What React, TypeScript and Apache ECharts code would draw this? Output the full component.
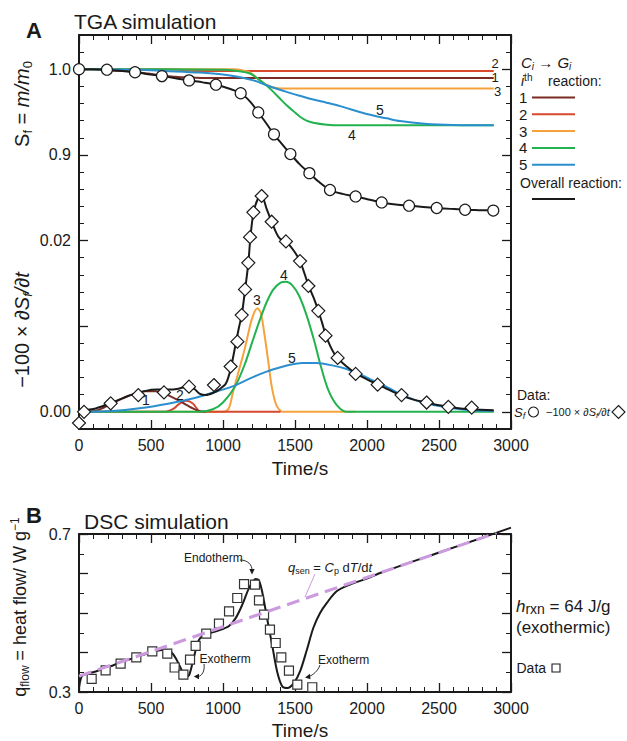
import React, { useEffect, useRef } from "react";
import * as echarts from "echarts";

const FONT = "'Liberation Sans', Arial, Helvetica, sans-serif";
const INK = "#1a1a1a";

// ---------------- axes / ticks ----------------
const timeTicks = [0, 500, 1000, 1500, 2000, 2500, 3000];
// Panel A uses one combined scale u: Sf drawn as u = (Sf - 0.6) / 10, derivative drawn as is.
const aMin = -0.002;
const aMax = 0.044;
const aLabelValues = [0, 0.02, 0.03, 0.04];
const aLabelTexts = ["0.00", "0.02", "0.9", "1.0"];
const aMajorTicks = [0, 0.01, 0.02, 0.03, 0.04];
const aMinorTicks: number[] = [];
for (let k = -1; k <= 21; k++) if (k % 5 !== 0) aMinorTicks.push(Number((k * 0.002).toFixed(4)));

const bMin = 0.3;
const bMax = 0.7;
const bLabelValues = [0.3, 0.7];
const bLabelTexts = ["0.3", "0.7"];
const bMajorTicks = [0.3, 0.4, 0.5, 0.6, 0.7];
const bMinorTicks = [0.35, 0.45, 0.55, 0.65];

// ---------------- Panel A: Sf of each reaction ----------------
const reactionNames = ["1", "2", "3", "4", "5"];
const reactionColors = ["#7b2c25", "#d8482f", "#f6a23c", "#22b24f", "#2b8fcf"];

const sf1 = [[0, 1.0], [100, 0.9999], [192, 0.999], [300, 0.998], [389, 0.9968], [480, 0.995], [576, 0.993], [670, 0.9912], [764, 0.9903], [850, 0.9899], [2880, 0.9899]];
const sf2 = [[0, 1.0], [620, 1.0], [700, 0.9993], [745, 0.9987], [800, 0.9981], [850, 0.998], [2880, 0.998]];
const sf3 = [[0, 1.0], [1080, 1.0], [1140, 0.9985], [1190, 0.996], [1238, 0.9895], [1280, 0.984], [1320, 0.9805], [1360, 0.9783], [1410, 0.9776], [2880, 0.9776]];
const sf4 = [[0, 1.0], [1000, 0.9995], [1100, 0.998], [1188, 0.995], [1257, 0.987], [1303, 0.981], [1350, 0.9736], [1400, 0.965], [1442, 0.958], [1490, 0.951], [1535, 0.9446], [1580, 0.94], [1627, 0.9376], [1720, 0.9353], [1813, 0.9345], [2880, 0.9345]];
const sf5 = [[0, 1.0], [400, 0.9995], [600, 0.998], [840, 0.9961], [1072, 0.9922], [1211, 0.987], [1303, 0.9814], [1442, 0.9736], [1535, 0.969], [1627, 0.9647], [1720, 0.961], [1813, 0.957], [1998, 0.9477], [2137, 0.9427], [2229, 0.9395], [2400, 0.9365], [2600, 0.935], [2880, 0.9345]];

const sfOverall = [[0, 1.0], [100, 1.0], [194, 0.9995], [300, 0.998], [389, 0.9965], [480, 0.9943], [576, 0.992], [670, 0.9896], [764, 0.987], [860, 0.9847], [951, 0.982], [1040, 0.9775], [1123, 0.972], [1190, 0.962], [1245, 0.9496], [1300, 0.937], [1354, 0.924], [1410, 0.9125], [1468, 0.901], [1530, 0.8895], [1600, 0.8787], [1670, 0.868], [1743, 0.859], [1830, 0.8545], [1921, 0.8515], [2010, 0.848], [2102, 0.8445], [2200, 0.8422], [2292, 0.8407], [2390, 0.8393], [2484, 0.838], [2580, 0.837], [2681, 0.836], [2780, 0.8355], [2877, 0.835]];
const sfData = [[0, 1.0], [194, 0.9995], [389, 0.9965], [576, 0.992], [764, 0.987], [951, 0.982], [1123, 0.972], [1245, 0.9496], [1354, 0.924], [1468, 0.901], [1600, 0.8787], [1743, 0.859], [1921, 0.8515], [2102, 0.8445], [2292, 0.8407], [2484, 0.838], [2681, 0.836], [2877, 0.835]];

// ---------------- Panel A: -100 x dSf/dt ----------------
const d1 = [[0, 0], [116, 0.00012], [231, 0.001], [347, 0.00188], [463, 0.0024], [532, 0.0024], [602, 0.00208], [694, 0.0013], [787, 0.00043], [833, 0.0001], [880, 0]];
const d2 = [[0, 0], [600, 0], [623, 0.0001], [660, 0.0004], [694, 0.0009], [741, 0.0013], [770, 0.0012], [795, 0.0009], [822, 0.0003], [845, 0], [1400, 0]];
const d3 = [[0, 0], [1000, 0], [1040, 0.0004], [1072, 0.0025], [1110, 0.0048], [1153, 0.0075], [1200, 0.0108], [1238, 0.0121], [1262, 0.0116], [1290, 0.0088], [1315, 0.0058], [1340, 0.0028], [1370, 0.0008], [1400, 0.0001], [1420, 0], [1920, 0]];
const d4 = [[0, 0], [840, 0], [930, 0.0003], [1000, 0.0011], [1085, 0.003], [1150, 0.0055], [1200, 0.008], [1257, 0.0108], [1303, 0.0128], [1350, 0.0143], [1400, 0.0151], [1437, 0.0152], [1480, 0.0148], [1530, 0.0135], [1580, 0.0113], [1630, 0.0085], [1680, 0.0053], [1730, 0.0026], [1790, 0.0008], [1859, 0], [2880, 0]];
const d5 = [[0, 0], [231, 0.0001], [463, 0.0005], [694, 0.0012], [840, 0.0018], [960, 0.0024], [1085, 0.0031], [1200, 0.004], [1303, 0.0047], [1400, 0.0052], [1465, 0.0055], [1550, 0.0057], [1650, 0.0057], [1766, 0.0054], [1859, 0.005], [1917, 0.0046], [2000, 0.004], [2074, 0.0034], [2160, 0.0027], [2240, 0.002], [2330, 0.0014], [2414, 0.001], [2490, 0.0007], [2565, 0.0005], [2650, 0.0003], [2727, 0.0002], [2880, 0.0001]];

const dOverall = [[0, 0], [50, 0.0002], [116, 0.0004], [231, 0.0011], [347, 0.0019], [463, 0.00245], [540, 0.0026], [620, 0.0026], [690, 0.0027], [764, 0.003], [800, 0.0027], [840, 0.0021], [880, 0.00196], [930, 0.0022], [972, 0.0026], [1020, 0.0033], [1053, 0.005], [1083, 0.0075], [1110, 0.0098], [1130, 0.0113], [1153, 0.0142], [1176, 0.0174], [1190, 0.0203], [1211, 0.0232], [1240, 0.0248], [1268, 0.0252], [1303, 0.0237], [1338, 0.0222], [1370, 0.0209], [1396, 0.0202], [1437, 0.0199], [1488, 0.0189], [1535, 0.0176], [1593, 0.0148], [1630, 0.0133], [1662, 0.0118], [1690, 0.0103], [1715, 0.0089], [1750, 0.0075], [1789, 0.0064], [1859, 0.0053], [1921, 0.0045], [2000, 0.0038], [2074, 0.0032], [2160, 0.0025], [2240, 0.0019], [2330, 0.0014], [2414, 0.0011], [2490, 0.0008], [2565, 0.0006], [2650, 0.0004], [2727, 0.0003], [2880, 0.0002]];
const dData = [[0, -0.0013], [35, 0], [220, 0.001], [412, 0.00196], [590, 0.00227], [764, 0.00294], [937, 0.00314], [1053, 0.0053], [1100, 0.0082], [1130, 0.0113], [1153, 0.0143], [1176, 0.0174], [1188, 0.0204], [1211, 0.0233], [1268, 0.0252], [1338, 0.0222], [1437, 0.0199], [1535, 0.0176], [1593, 0.0147], [1662, 0.0118], [1712, 0.0089], [1796, 0.0063], [1921, 0.00443], [2074, 0.00318], [2240, 0.00196], [2414, 0.00109], [2565, 0.00059], [2727, 0.0005]];

// ---------------- Panel B: DSC ----------------
const qSen = [[0, 0.34], [2900, 0.703]];
const qFlow = [[0, 0.312], [10, 0.33], [25, 0.342], [116, 0.352], [231, 0.3666], [347, 0.382], [463, 0.396], [550, 0.405], [600, 0.407], [640, 0.401], [671, 0.386], [706, 0.361], [741, 0.3395], [764, 0.342], [799, 0.39], [833, 0.432], [880, 0.446], [972, 0.456], [1042, 0.467], [1088, 0.487], [1134, 0.521], [1181, 0.563], [1227, 0.586], [1250, 0.582], [1273, 0.552], [1308, 0.483], [1343, 0.4155], [1377, 0.35], [1412, 0.314], [1447, 0.31], [1493, 0.323], [1535, 0.352], [1581, 0.405], [1627, 0.462], [1674, 0.5], [1720, 0.525], [1789, 0.555], [1882, 0.572], [1998, 0.587], [2100, 0.6025], [2500, 0.653], [2800, 0.6905], [3000, 0.716]];
const qData = [[88, 0.333], [185, 0.355], [289, 0.3716], [398, 0.3877], [509, 0.403], [613, 0.397], [664, 0.362], [725, 0.344], [771, 0.382], [810, 0.417], [884, 0.4476], [972, 0.473], [1042, 0.504], [1099, 0.538], [1146, 0.573], [1222, 0.5716], [1250, 0.532], [1285, 0.4957], [1326, 0.4577], [1366, 0.424], [1405, 0.3877], [1458, 0.354], [1516, 0.3185], [1620, 0.312]];

const toU = (sf: number) => (sf - 0.6) / 10;

function xAxisDef(gridIndex: number, position: "top" | "bottom") {
  return {
    type: "value",
    gridIndex,
    position,
    min: timeTicks[0],
    max: timeTicks[timeTicks.length - 1],
    interval: timeTicks[1] - timeTicks[0],
    axisLine: { show: true, onZero: false, lineStyle: { color: INK, width: 2 } },
    axisTick: { show: true, inside: true, length: 9, lineStyle: { color: INK, width: 1.3 } },
    minorTick: { show: true, splitNumber: 5, length: 5, lineStyle: { color: INK, width: 1 } },
    axisLabel: {
      show: position === "bottom",
      color: INK,
      fontSize: 16,
      fontFamily: FONT,
      margin: 8,
      formatter: (v: number) => String(Math.round(v)),
    },
    splitLine: { show: false },
    minorSplitLine: { show: false },
  };
}

function yAxisDef(
  gridIndex: number,
  position: "left" | "right",
  min: number,
  max: number,
  ticks: number[],
  major: boolean,
  labelValues?: number[],
  labelTexts?: string[]
) {
  return {
    type: "value",
    gridIndex,
    position,
    min,
    max,
    axisLine: { show: major, onZero: false, lineStyle: { color: INK, width: 2 } },
    axisTick: {
      show: true,
      inside: true,
      length: major ? 9 : 5,
      customValues: ticks,
      lineStyle: { color: INK, width: major ? 1.3 : 1 },
    },
    axisLabel: labelValues
      ? {
          show: true,
          customValues: labelValues,
          color: INK,
          fontSize: 16,
          fontFamily: FONT,
          margin: 8,
          formatter: (v: number) => {
            const i = labelValues.findIndex((x) => Math.abs(x - v) < 1e-9);
            return i >= 0 && labelTexts ? labelTexts[i] : "";
          },
        }
      : { show: false },
    splitLine: { show: false },
  };
}

const lineSeries = (data: number[][], color: string, width: number, xi: number, yi: number, z: number, extra: any = {}) => ({
  type: "line",
  xAxisIndex: xi,
  yAxisIndex: yi,
  data,
  showSymbol: false,
  symbol: "none",
  smooth: 0.3,
  lineStyle: { color, width },
  z,
  silent: true,
  ...extra,
});

const txt = (x: number, y: number, text: string, size = 14, extra: any = {}, styleExtra: any = {}) => ({
  type: "text",
  x,
  y,
  z: 50,
  ...extra,
  style: {
    text,
    fill: INK,
    fontSize: size,
    fontFamily: FONT,
    align: "left",
    verticalAlign: "middle",
    ...styleExtra,
  },
});

function richSet(main: number, sub: number, lh: number) {
  return {
    r: { fontSize: main, fontFamily: FONT, fill: INK, lineHeight: lh },
    i: { fontSize: main, fontFamily: FONT, fontStyle: "italic", fill: INK, lineHeight: lh },
    sb: { fontSize: sub, fontFamily: FONT, fill: INK, lineHeight: sub + 1, verticalAlign: "bottom" },
    sbi: { fontSize: sub, fontFamily: FONT, fontStyle: "italic", fill: INK, lineHeight: sub + 1, verticalAlign: "bottom" },
    sp: { fontSize: sub, fontFamily: FONT, fill: INK, lineHeight: sub + 1, verticalAlign: "top" },
  };
}

export default function App() {
  const ref = useRef<HTMLDivElement>(null);

  useEffect(() => {
    if (!ref.current) return;
    const chart = echarts.init(ref.current, null, { renderer: "svg" });

    const sfSets = [sf1, sf2, sf3, sf4, sf5];
    const dSets = [d1, d2, d3, d4, d5];
    // draw order so that the zero tails overlap as in the figure
    const dOrder = [2, 1, 0, 3, 4];

    const series: any[] = [];
    sfSets.forEach((s, i) => {
      series.push(lineSeries(s.map(([t, v]) => [t, toU(v)]), reactionColors[i], 2, 0, 0, 2 + i));
    });
    dOrder.forEach((i, k) => {
      series.push(lineSeries(dSets[i], reactionColors[i], 2, 0, 0, 2 + k));
    });
    series.push(lineSeries(sfOverall.map(([t, v]) => [t, toU(v)]), INK, 2, 0, 0, 10));
    series.push(lineSeries(dOverall, INK, 2, 0, 0, 10));
    series.push({
      type: "scatter",
      xAxisIndex: 0,
      yAxisIndex: 0,
      data: sfData.map(([t, v]) => [t, toU(v)]),
      symbol: "circle",
      symbolSize: 11,
      clip: false,
      itemStyle: { color: "#fff", borderColor: INK, borderWidth: 1.2, opacity: 1 },
      z: 12,
      silent: true,
    });
    series.push({
      type: "scatter",
      xAxisIndex: 0,
      yAxisIndex: 0,
      data: dData,
      symbol: "diamond",
      symbolSize: 13,
      clip: false,
      itemStyle: { color: "#fff", borderColor: INK, borderWidth: 1.2, opacity: 1 },
      z: 12,
      silent: true,
    });
    // Panel B
    series.push(lineSeries(qFlow, INK, 2, 2, 4, 10, { clip: false }));
    series.push({
      type: "scatter",
      xAxisIndex: 2,
      yAxisIndex: 4,
      data: qData,
      symbol: "rect",
      symbolSize: 9,
      clip: false,
      itemStyle: { color: "#fff", borderColor: "#333", borderWidth: 1.2, opacity: 1 },
      z: 11,
      silent: true,
    });
    series.push(
      lineSeries(qSen, "#cc9ade", 3, 2, 4, 13, { smooth: false, lineStyle: { color: "#cc9ade", width: 3, type: [13, 7] } })
    );

    const legendLines: any[] = [];
    reactionNames.forEach((n, i) => {
      const y = 97.5 + i * 16.8;
      legendLines.push(txt(519, y, n, 15));
      legendLines.push({
        type: "line",
        z: 50,
        shape: { x1: 532, y1: y, x2: 575, y2: y },
        style: { stroke: reactionColors[i], lineWidth: 2 },
      });
    });

    const arrow = (x1: number, y1: number, c1x: number, c1y: number, c2x: number, c2y: number, x2: number, y2: number, head: number[][]) => [
      {
        type: "bezierCurve",
        z: 50,
        shape: { x1, y1, cpx1: c1x, cpy1: c1y, cpx2: c2x, cpy2: c2y, x2, y2 },
        style: { stroke: INK, lineWidth: 0.9, fill: null },
      },
      { type: "polygon", z: 50, shape: { points: head }, style: { fill: INK, stroke: null } },
    ];

    const graphics: any[] = [
      // panel titles
      txt(26, 30, "A", 22, {}, { fontWeight: "bold" }),
      txt(74, 21, "TGA simulation", 21),
      txt(26, 515, "B", 22, {}, { fontWeight: "bold" }),
      txt(84, 521, "DSC simulation", 21),
      // axis names
      txt(300, 468, "Time/s", 19, {}, { align: "center" }),
      txt(300, 730, "Time/s", 19, {}, { align: "center" }),
      txt(22, 104, "{r|S}{sb|f}{r| = }{i|m/m}{sb|0}", 20, { rotation: Math.PI / 2 }, {
        align: "center",
        rich: richSet(20, 13, 24),
      }),
      txt(22, 330, "{r|−100 × }{i|∂S}{sbi|f}{i|/∂t}", 20, { rotation: Math.PI / 2 }, {
        align: "center",
        rich: richSet(20, 13, 24),
      }),
      txt(20, 607, "{r|q}{sb|flow}{r| = heat flow/ W g}{sp|−1}", 18, { rotation: Math.PI / 2 }, {
        align: "center",
        rich: richSet(18, 12, 22),
      }),
      // legend A
      txt(521, 62, "{i|C}{sbi|i}{r| → }{i|G}{sbi|i}", 15, {}, { rich: richSet(15, 10, 18) }),
      txt(521, 81, "{i|i}{sp|th}{r|    reaction:}", 14, {}, { rich: richSet(14, 10, 18) }),
      ...legendLines,
      txt(520, 183, "Overall reaction:", 14),
      { type: "line", z: 50, shape: { x1: 532, y1: 199, x2: 575, y2: 199 }, style: { stroke: INK, lineWidth: 2 } },
      txt(517, 395, "Data:", 14),
      txt(514, 412, "{i|S}{sbi|f}", 13, {}, { rich: richSet(13, 9, 16) }),
      { type: "circle", z: 50, shape: { cx: 533.5, cy: 412, r: 5 }, style: { fill: "#fff", stroke: INK, lineWidth: 1.1 } },
      txt(546, 412, "{r|−100 × }{i|∂S}{sbi|f}{i|/∂t}", 11, {}, { rich: richSet(11, 8, 14) }),
      {
        type: "polygon",
        z: 50,
        shape: { points: [[618.5, 405.5], [625, 412], [618.5, 418.5], [612, 412]] },
        style: { fill: "#fff", stroke: INK, lineWidth: 1.1 },
      },
      // curve labels (Sf)
      txt(495, 63, "2", 13, {}, { align: "center" }),
      txt(495, 77, "1", 13, {}, { align: "center" }),
      txt(497.5, 91, "3", 13, {}, { align: "center" }),
      txt(380, 110, "5", 14, {}, { align: "center" }),
      txt(352, 135, "4", 14, {}, { align: "center" }),
      // curve labels (derivative)
      txt(146, 400, "1", 14, {}, { align: "center" }),
      txt(180, 395, "2", 14, {}, { align: "center" }),
      txt(257, 300, "3", 14, {}, { align: "center" }),
      txt(284, 275, "4", 14, {}, { align: "center" }),
      txt(292, 358, "5", 14, {}, { align: "center" }),
      // panel B annotations
      txt(184, 557.5, "Endotherm", 12),
      ...arrow(240, 560, 248, 560, 252, 565, 252, 570, [[249.3, 569], [254.7, 569], [252, 574.5]]),
      txt(199.5, 659, "Exotherm", 12),
      ...arrow(204, 664, 205, 671, 202, 676, 198, 676.5, [[199, 673.8], [199, 679.2], [193.8, 676.5]]),
      txt(318, 660, "Exotherm", 12),
      ...arrow(320, 665, 318, 671, 313, 675, 309, 676.5, [[310, 673.8], [310.5, 679.2], [305, 677.5]]),
      txt(288, 567, "{i|q}{sb|sen}{r| = }{i|C}{sb|p}{r| d}{i|T}{r|/d}{i|t}", 13, {}, { rich: richSet(13, 9, 16) }),
      { type: "line", z: 50, shape: { x1: 315, y1: 574, x2: 305, y2: 597 }, style: { stroke: "#cc9ade", lineWidth: 1 } },
      txt(516, 606, "{i|h}{sb|rxn}{r| = 64 J/g}", 17, {}, { rich: richSet(17, 14, 20) }),
      txt(516, 627, "(exothermic)", 17),
      txt(516.5, 668, "Data", 14),
      { type: "rect", z: 50, shape: { x: 552, y: 664, width: 8, height: 8 }, style: { fill: "#fff", stroke: INK, lineWidth: 1.1 } },
    ];

    chart.setOption({
      animation: false,
      backgroundColor: "#fff",
      textStyle: { fontFamily: FONT },
      grid: [
        { left: 79, top: 35, width: 432, height: 394, containLabel: false },
        { left: 79, top: 534, width: 432, height: 158, containLabel: false },
      ],
      xAxis: [xAxisDef(0, "bottom"), xAxisDef(0, "top"), xAxisDef(1, "bottom"), xAxisDef(1, "top")],
      yAxis: [
        yAxisDef(0, "left", aMin, aMax, aMajorTicks, true, aLabelValues, aLabelTexts),
        yAxisDef(0, "left", aMin, aMax, aMinorTicks, false),
        yAxisDef(0, "right", aMin, aMax, aMajorTicks, true),
        yAxisDef(0, "right", aMin, aMax, aMinorTicks, false),
        yAxisDef(1, "left", bMin, bMax, bMajorTicks, true, bLabelValues, bLabelTexts),
        yAxisDef(1, "left", bMin, bMax, bMinorTicks, false),
        yAxisDef(1, "right", bMin, bMax, bMajorTicks, true),
        yAxisDef(1, "right", bMin, bMax, bMinorTicks, false),
      ],
      series,
      graphic: { elements: graphics },
    });

    return () => chart.dispose();
  }, []);

  return <div ref={ref} style={{ position: "absolute", left: 0, top: 0, width: 627, height: 741, background: "#fff" }} />;
}
